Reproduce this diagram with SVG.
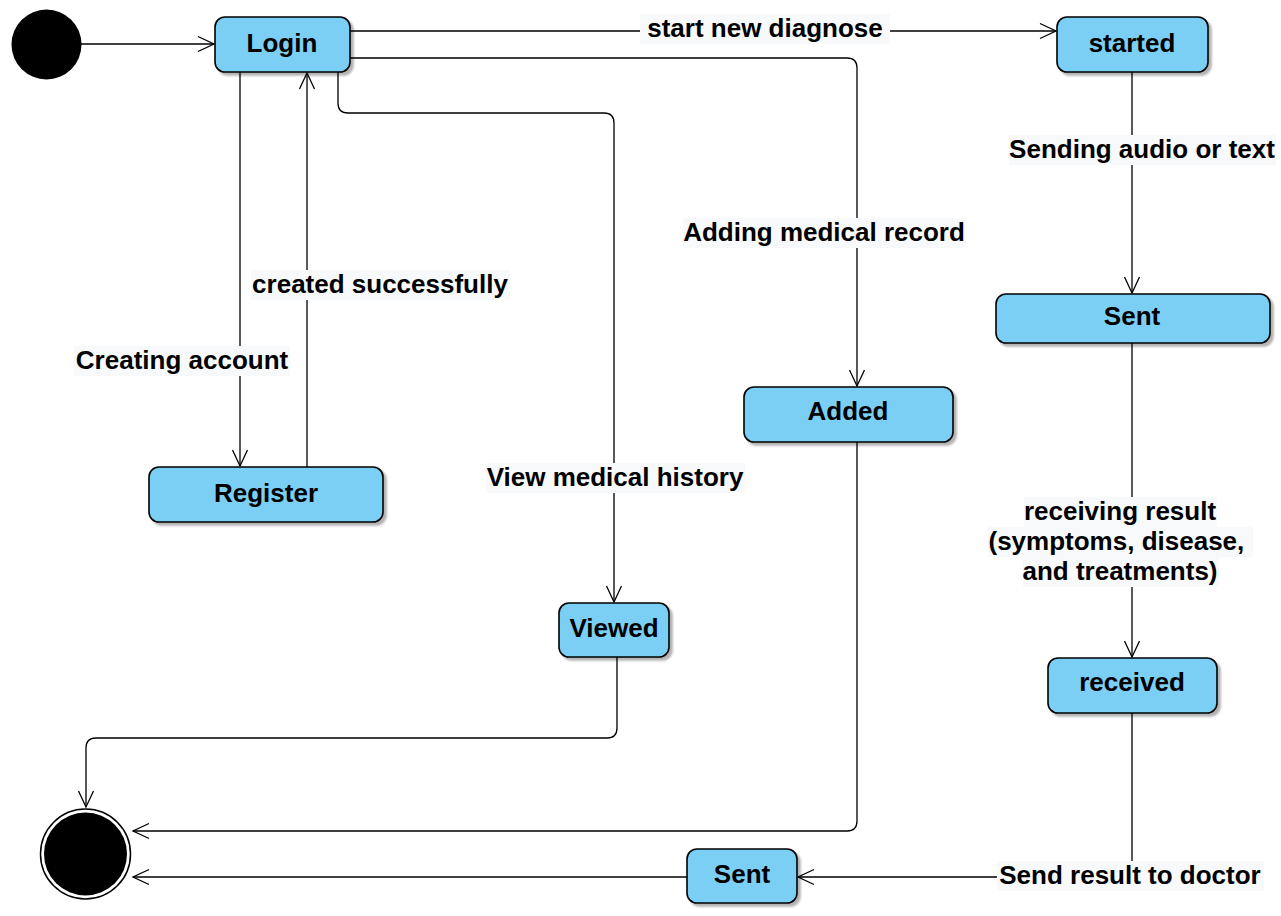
<svg xmlns="http://www.w3.org/2000/svg" width="1281" height="916" viewBox="0 0 1281 916">
<style>
.node{fill:#7ccff4;stroke:#000;stroke-width:1.6;filter:url(#sh)}
.nt{font-family:"Liberation Sans",Arial,sans-serif;font-weight:bold;font-size:26px;text-anchor:middle;fill:#000}
.edge{fill:none;stroke:#000;stroke-width:1.3;marker-end:url(#arr)}
.lbg{fill:#f8f9fa}
</style>
<defs>
<filter id="sh" x="-10%" y="-20%" width="130%" height="150%">
<feDropShadow dx="3" dy="3" stdDeviation="1" flood-color="#000" flood-opacity="0.3"/>
</filter>
<marker id="arr" viewBox="-18 -9 20 18" refX="0" refY="0" markerWidth="20" markerHeight="18" markerUnits="userSpaceOnUse" orient="auto">
<path d="M-16,-7.5 L0,0 L-16,7.5" fill="none" stroke="#000" stroke-width="1.3"/>
</marker>
</defs>
<rect width="1281" height="916" fill="#fff"/>
<g id="connectors">
<path class="edge" d="M81,44 H214"/>
<path class="edge" d="M240,72 V466"/>
<path class="edge" d="M307,467 V73"/>
<path class="edge" d="M338,72 V103 Q338,113 348,113 H604 Q614,113 614,123 V602"/>
<path class="edge" d="M350,58 H847 Q857,58 857,68 V386"/>
<path class="edge" d="M350,31 H1056"/>
<path class="edge" d="M1132,72 V293"/>
<path class="edge" d="M1132,343 V657"/>
<path class="edge" d="M1132,713 V867 Q1132,877 1122,877 H798"/>
<path class="edge" d="M687,877 H133"/>
<path class="edge" d="M857,442 V821 Q857,831 847,831 H133"/>
<path class="edge" d="M617,657 V728 Q617,738 607,738 H96 Q86,738 86,748 V807"/>
<g id="labels">
<rect class="lbg" x="640" y="14" width="250" height="30"/>
<text class="nt" x="765" y="37">start new diagnose</text>
<rect class="lbg" x="683" y="218" width="283" height="30"/>
<text class="nt" x="824" y="241">Adding medical record</text>
<rect class="lbg" x="251" y="270" width="259" height="30"/>
<text class="nt" x="380" y="293">created successfully</text>
<rect class="lbg" x="74" y="346" width="216" height="30"/>
<text class="nt" x="182" y="369">Creating account</text>
<rect class="lbg" x="486" y="463" width="259" height="30"/>
<text class="nt" x="615" y="486">View medical history</text>
<rect class="lbg" x="1009" y="135" width="267" height="30"/>
<text class="nt" x="1142" y="158">Sending audio or text</text>
<rect class="lbg" x="1024" y="497" width="193" height="30"/>
<text class="nt" x="1120" y="520">receiving result</text>
<rect class="lbg" x="988" y="527" width="265" height="30"/>
<text class="nt" x="1120" y="550" xml:space="preserve">(symptoms, disease, </text>
<rect class="lbg" x="1023" y="557" width="196" height="30"/>
<text class="nt" x="1120" y="580">and treatments)</text>
<rect class="lbg" x="997" y="861" width="267" height="30"/>
<text class="nt" x="1130" y="884">Send result to doctor</text>
</g>
</g>
<g id="start"><circle cx="46.5" cy="44.5" r="35" fill="#000"/></g>
<g id="end">
<circle cx="85.5" cy="854" r="45" fill="#fff" stroke="#000" stroke-width="1.5"/>
<circle cx="85.5" cy="854" r="41.5" fill="#000"/>
</g>
<g id="login"><rect class="node" x="215" y="17" width="135" height="55" rx="10"/><text class="nt" x="282" y="52">Login</text></g>
<g id="register"><rect class="node" x="149" y="467" width="234" height="55" rx="10"/><text class="nt" x="266" y="502">Register</text></g>
<g id="viewed"><rect class="node" x="559" y="603" width="110" height="54" rx="10"/><text class="nt" x="614" y="637">Viewed</text></g>
<g id="added"><rect class="node" x="744" y="387" width="209" height="55" rx="10"/><text class="nt" x="848" y="420">Added</text></g>
<g id="started"><rect class="node" x="1057" y="17" width="151" height="55" rx="10"/><text class="nt" x="1132" y="52">started</text></g>
<g id="sent1"><rect class="node" x="996" y="294" width="274" height="49" rx="10"/><text class="nt" x="1132" y="325">Sent</text></g>
<g id="received"><rect class="node" x="1048" y="658" width="169" height="55" rx="10"/><text class="nt" x="1132" y="691">received</text></g>
<g id="sent2"><rect class="node" x="687" y="849" width="110" height="54" rx="10"/><text class="nt" x="742" y="883">Sent</text></g>
</svg>
